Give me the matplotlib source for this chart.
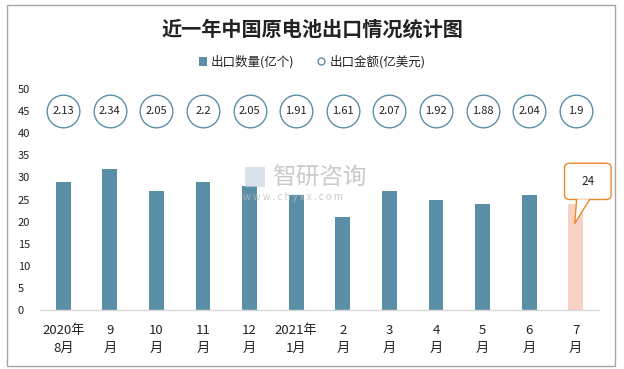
import matplotlib
matplotlib.use("Agg")
import matplotlib.pyplot as plt
from matplotlib.patches import Rectangle, Patch, FancyBboxPatch, Polygon
from matplotlib.lines import Line2D

plt.rcParams['font.family'] = ['Noto Sans CJK SC', 'DejaVu Sans']

categories = ["2020年\n8月", "9\n月", "10\n月", "11\n月", "12\n月", "2021年\n1月",
              "2\n月", "3\n月", "4\n月", "5\n月", "6\n月", "7\n月"]
quantity = [29, 32, 27, 29, 28, 26, 21, 27, 25, 24, 26, 24]
amount = [2.13, 2.34, 2.05, 2.2, 2.05, 1.91, 1.61, 2.07, 1.92, 1.88, 2.04, 1.9]
yticks = [0, 5, 10, 15, 20, 25, 30, 35, 40, 45, 50]

W, H = 624, 369
fig = plt.figure(figsize=(W / 100, H / 100), dpi=100)
fig.patch.set_facecolor("white")

# outer border
fig.add_artist(Rectangle((7 / W, 1 - 366 / H), (615 - 7) / W, (366 - 5) / H,
                         transform=fig.transFigure, fill=False,
                         edgecolor="#a6a6a6", linewidth=1.0))

ax = fig.add_axes([40 / W, 1 - 310 / H, (599 - 40) / W, (310 - 89) / H])
x = list(range(len(categories)))
bar_col = "#5b8fa8"
colors = [bar_col] * (len(x) - 1) + ["#f8d0c4"]
ax.bar(x, quantity, width=0.32, color=colors, zorder=2)

ax.set_xlim(-0.5, len(x) - 0.5)
ax.set_ylim(0, 50)
ax.set_yticks(yticks)
ax.set_yticklabels([str(v) for v in yticks], fontsize=8, color="#222222")
ax.set_xticks(x)
ax.set_xticklabels(categories, fontsize=9.5, color="#222222", linespacing=1.5)
ax.tick_params(axis="both", length=0)
ax.tick_params(axis="x", pad=10)
ax.tick_params(axis="y", pad=16)
for s in ["top", "right", "left"]:
    ax.spines[s].set_visible(False)
ax.spines["bottom"].set_color("#d9d9d9")
ax.spines["bottom"].set_linewidth(1.0)
for lbl in ax.get_yticklabels():
    lbl.set_horizontalalignment("left")

# circles with amount values
for xi, a in zip(x, amount):
    ax.plot(xi, 45, marker="o", markersize=23.5, markerfacecolor="white",
            markeredgecolor="#5b8fa8", markeredgewidth=1.0, zorder=3)
    ax.text(xi, 45, f"{a:g}", ha="center", va="center", fontsize=8,
            color="#222222", zorder=4)

# callout for last bar
last = len(x) - 1
bx0, bx1 = last - 0.24, last + 0.76
by0, by1 = 25.0, 33.2
box = FancyBboxPatch((bx0, by0), bx1 - bx0, by1 - by0,
                     boxstyle="round,pad=0,rounding_size=0.12",
                     mutation_aspect=8, facecolor="white", edgecolor="#e8892c",
                     linewidth=1.0, zorder=5, clip_on=False)
ax.add_patch(box)
tri = Polygon([[last + 0.02, by0 + 0.05], [last + 0.3, by0 + 0.05], [last - 0.02, 19.6]],
              closed=True, facecolor="white", edgecolor="none", zorder=6, clip_on=False)
ax.add_patch(tri)
ax.plot([last + 0.02, last - 0.02, last + 0.3], [by0, 19.6, by0], color="#e8892c",
        linewidth=1.0, zorder=7, clip_on=False)
ax.text((bx0 + bx1) / 2, (by0 + by1) / 2, str(quantity[last]), ha="center",
        va="center", fontsize=8.5, color="#222222", zorder=8)

# watermark
fig.text(272 / W, 1 - 178 / H, "智研咨询", fontsize=17, color="#bdbdbd",
         ha="left", va="center", alpha=0.8)
fig.text(243 / W, 1 - 197 / H, "w w w . c h y x x . c o m", fontsize=7,
         color="#bdbdbd", ha="left", va="center", alpha=0.8)
fig.add_artist(Rectangle((245 / W, 1 - 187 / H), 20 / W, 20 / H,
                         transform=fig.transFigure, facecolor="#c9d6e3",
                         edgecolor="none", alpha=0.7))

# title
fig.text(0.5, 1 - 29 / H, "近一年中国原电池出口情况统计图", ha="center", va="center",
         fontsize=14.5, fontweight="bold", color="#222222")

# legend
handles = [Patch(facecolor=bar_col, edgecolor="none"),
           Line2D([], [], linestyle="none", marker="o", markersize=5,
                  markerfacecolor="white", markeredgecolor="#5b8fa8")]
fig.legend(handles, ["出口数量(亿个)", "出口金额(亿美元)"], loc="center",
           bbox_to_anchor=(0.5, 1 - 62 / H), ncol=2, frameon=False,
           fontsize=9, handlelength=0.7, handleheight=0.7, handletextpad=0.3,
           columnspacing=1.8, labelcolor="#222222")

fig.savefig("out.png", dpi=100, facecolor="white")
